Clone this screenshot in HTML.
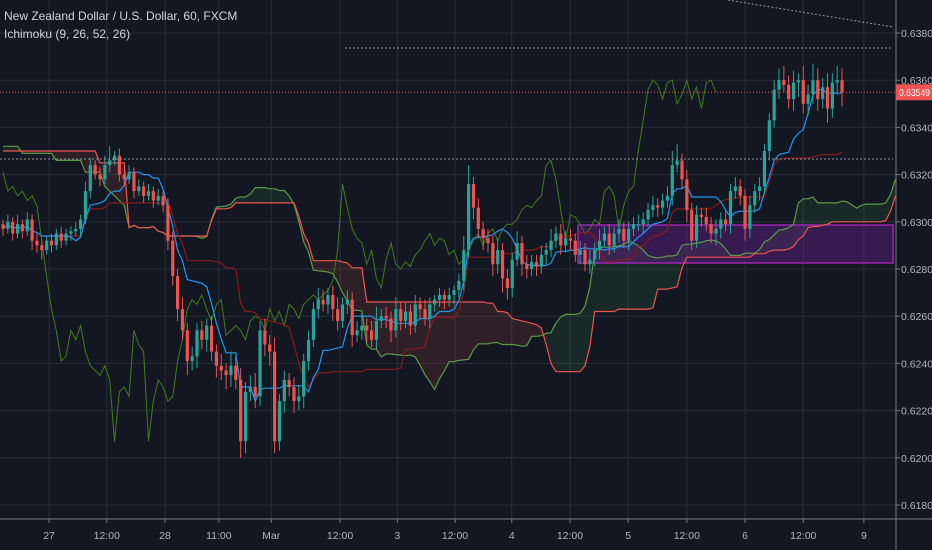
<!DOCTYPE html>
<html><head><meta charset="utf-8"><style>
html,body{margin:0;padding:0;background:#131722;width:932px;height:550px;overflow:hidden}
svg{display:block;font-family:"Liberation Sans",sans-serif}
</style></head><body>
<svg id="chart" width="932" height="550" xmlns="http://www.w3.org/2000/svg">
<rect x="0" y="0" width="932" height="550" fill="#131722"/>
<g id="grid"></g>
<g id="cloud"></g>
<rect x="578" y="225" width="315" height="38" fill="rgba(123,31,162,0.35)" stroke="#9c27b0" stroke-width="1.5"/>
<g id="lines"></g>
<g id="candles"></g>
<line x1="345" y1="48" x2="893" y2="48" stroke="#9598a1" stroke-dasharray="2,2"/>
<line x1="0" y1="159" x2="893" y2="159" stroke="#9598a1" stroke-dasharray="2,2"/>
<line x1="728" y1="0" x2="893" y2="27" stroke="#9598a1" stroke-dasharray="2,2"/>
<line id="lastline" x1="0" y1="92" x2="896" y2="92" stroke="#ef5350" stroke-dasharray="1,2"/>
<line x1="896" y1="0" x2="896" y2="550" stroke="#787b86"/>
<line x1="0" y1="519" x2="932" y2="519" stroke="#787b86"/>
<g id="yaxis"></g>
<g id="xaxis"></g>
<rect id="lastbox" x="896" y="84" width="36" height="16" fill="#ef5350"/>
<text id="lasttext" x="899" y="96" font-size="9.8" fill="#fff" textLength="31" lengthAdjust="spacingAndGlyphs">0.63549</text>
<text x="4" y="20" font-size="12" fill="#d1d4dc">New Zealand Dollar / U.S. Dollar, 60, FXCM</text>
<text x="4" y="38" font-size="12" fill="#d1d4dc">Ichimoku (9, 26, 52, 26)</text>
</svg>
<script>
const closes = [0.6297,0.6300,0.6295,0.6299,0.6296,0.6301,0.6292,0.6290,0.6288,0.6292,
0.6290,0.6295,0.6292,0.6295,0.6296,0.6297,0.6301,0.6313,0.6324,0.6320,
0.6318,0.6324,0.6326,0.6328,0.6320,0.6318,0.6321,0.6313,0.6315,0.6311,
0.6313,0.6309,0.6311,0.6307,0.6292,0.6277,0.6263,0.6254,0.6241,0.6243,
0.6254,0.6250,0.6256,0.6245,0.6239,0.6237,0.6235,0.6239,0.6233,0.6207,
0.6228,0.6230,0.6226,0.6254,0.6248,0.6245,0.6207,0.6224,0.6233,0.6230,
0.6224,0.6226,0.6241,0.6250,0.6263,0.6267,0.6265,0.6269,0.6263,0.6258,
0.6265,0.6267,0.6252,0.6254,0.6256,0.6254,0.6250,0.6258,0.6260,0.6259,
0.6254,0.6263,0.6258,0.6262,0.6256,0.6265,0.6263,0.6259,0.6265,0.6267,
0.6269,0.6267,0.6269,0.6271,0.6275,0.6288,0.6316,0.6306,0.6297,0.6293,
0.6291,0.6282,0.6288,0.6276,0.6272,0.6284,0.6291,0.6282,0.6280,0.6283,
0.6281,0.6286,0.6288,0.6292,0.6295,0.6290,0.6293,0.6292,0.6286,0.6288,
0.6282,0.6284,0.6288,0.6292,0.6295,0.6290,0.6295,0.6297,0.6292,0.6297,
0.6299,0.6299,0.6301,0.6305,0.6307,0.6306,0.6309,0.6311,0.6324,0.6326,
0.6318,0.6305,0.6292,0.6303,0.6302,0.6299,0.6295,0.6297,0.6301,0.6299,
0.6313,0.6315,0.6311,0.6297,0.6307,0.6313,0.6315,0.6330,0.6343,0.6356,
0.6360,0.6358,0.6352,0.6359,0.6360,0.6350,0.6354,0.6360,0.6352,0.6357,
0.6348,0.6359,0.6360,0.63549];
const upWick = [2,3,2,4,2,3,2,3,2,2, 3,2,3,2,2,3,2,4,3,2, 3,4,6,2,3,2,3,2,3,2,
3,2,3,2,3,4,3,5,3,4, 3,4,3,4,3,5,3,6,4,5, 4,5,6,4,5,4,6,3,4,3,
4,5,3,4,3,5,4,3,4,5, 3,4,3,4,5,3,4,6,3,4, 3,5,3,4,3,4,3,4,3,2,
3,2,3,2,3,6,8,3,4,3, 4,3,5,3,4,3,5,3,4,3, 3,4,3,5,3,4,3,4,3,4,
3,4,3,5,3,4,3,4,3,3, 3,4,3,3,4,3,3,4,6,7, 3,4,3,4,3,4,3,4,3,4,
3,4,3,3,4,3,4,3,3,4, 5,6,4,5,3,6,4,7,5,4, 6,4,6,5];
const downWick = [3,2,3,2,3,2,4,3,4,2, 3,2,3,2,3,2,3,2,3,2, 3,2,3,2,3,3,2,3,2,3,
2,3,2,3,4,4,5,4,6,4, 5,4,5,4,5,4,6,5,4,7, 5,4,5,4,5,6,5,4,5,4,
5,4,5,4,3,4,3,4,5,4, 3,4,5,3,4,5,3,4,3,4, 5,3,4,3,4,3,4,3,4,3,
3,4,3,4,3,4,3,5,4,5, 4,5,4,6,5,4,3,5,4,3, 4,3,4,3,3,4,3,4,3,4,
3,4,3,4,3,4,3,4,3,4, 3,3,4,3,3,4,3,3,4,3, 4,5,4,3,4,3,4,5,4,3,
4,3,4,5,4,3,4,3,4,3, 4,3,4,5,6,4,5,4,5,4, 6,4,5,6];
const spanAPrior = [0.6332,0.6332,0.6332,0.6332,0.6329,0.6329,0.6329,0.6329,0.6329,0.6329,0.6329,
0.6326,0.6326,0.6326,0.6326,0.6326,0.6326,0.6321,0.6321,0.6321,0.6321,0.6315,0.6313,0.6311,0.6309,0.6307];
const spanBPrior = [0.6330,0.6330,0.6330,0.6330,0.6330,0.6330,0.6330,0.6330,0.6330,0.6330,
0.6330,0.6330,0.6330,0.6330,0.6330,0.6330,0.6330,0.6330,0.6330,0.6330,0.6325,0.6325,0.6325,0.6325,0.6325,0.6325];
const priceTicks = [0.638,0.636,0.634,0.632,0.630,0.628,0.626,0.624,0.622,0.620,0.618];
const timeTickLabels = ["27","12:00","28","11:00","Mar","12:00","3","12:00","4","12:00","5","12:00","6","12:00","9"];
const timeTickIndex = [9.5,21.4,33.4,44.5,55.3,69.5,81.3,93.2,104.9,116.9,128.9,141,153,165,177.5];

const NS="http://www.w3.org/2000/svg";
const yOf = p => 33 + (0.638 - p) * 23600;
const xOf = i => 3 + i * 4.85;
function mk(tag, attrs, parent){const e=document.createElementNS(NS,tag);for(const k in attrs)e.setAttribute(k,attrs[k]);parent.appendChild(e);return e;}
const n = closes.length;
const opens = closes.map((c,i)=> i===0 ? 0.6299 : closes[i-1]);
const highs = closes.map((c,i)=> Math.max(c,opens[i]) + (upWick[i]||2)*0.0001);
const lows = closes.map((c,i)=> Math.min(c,opens[i]) - (downWick[i]||2)*0.0001);

const grid=document.getElementById('grid'), yax=document.getElementById('yaxis'), xax=document.getElementById('xaxis');
priceTicks.forEach(p=>{
  const y=yOf(p);
  const gl=mk('line',{x1:0,y1:y,x2:896,y2:y,stroke:'#2a2e39','stroke-width':1},grid);
  
  
  const tk=mk('line',{x1:896,y1:y,x2:900,y2:y,stroke:'#787b86'},yax);
  
  
  const t=mk('text',{x:901,y:y+4,'font-size':10.5,fill:'#b2b5be'},yax);
  t.textContent=p.toFixed(5);
  
  
});
timeTickIndex.forEach((ix,k)=>{
  const x=xOf(ix);
  const gl=mk('line',{x1:x,y1:0,x2:x,y2:519,stroke:'#2a2e39','stroke-width':1},grid);
  
  
  const tk=mk('line',{x1:x,y1:519,x2:x,y2:523,stroke:'#787b86'},xax);
  
  
  const t=mk('text',{x:x,y:539,'font-size':10.5,fill:'#b2b5be','text-anchor':'middle'},xax);
  t.textContent=timeTickLabels[k];
  
  
});

function hh(i,p){let m=-1;for(let j=Math.max(0,i-p+1);j<=i;j++)m=Math.max(m,highs[j]);return m;}
function ll(i,p){let m=9;for(let j=Math.max(0,i-p+1);j<=i;j++)m=Math.min(m,lows[j]);return m;}
const tenkan=[],kijun=[],spanA=[],spanB=[];
for(let i=0;i<n;i++){tenkan.push((hh(i,9)+ll(i,9))/2);kijun.push((hh(i,26)+ll(i,26))/2);}
for(let j=0;j<n+26;j++){
  if(j<26){spanA.push(spanAPrior[j]);spanB.push(spanBPrior[j]);}
  else{const i=j-26;spanA.push((tenkan[i]+kijun[i])/2);spanB.push((hh(i,52)+ll(i,52))/2);}
}
const cloud=document.getElementById('cloud');
for(let j=0;j<spanA.length-1;j++){
  if(xOf(j)>896)break;
  const x1=xOf(j),x2=Math.min(xOf(j+1),896);
  const up=spanA[j]>=spanB[j];
  const q=mk('polygon',{points:`${x1},${yOf(spanA[j])} ${x2},${yOf(spanA[j+1])} ${x2},${yOf(spanB[j+1])} ${x1},${yOf(spanB[j])}`,fill:up?'rgba(76,175,80,0.12)':'rgba(239,83,80,0.13)'},cloud);
  
  
}
const lines=document.getElementById('lines');
function poly(arr,off,color,name,w){
  const pts=[];arr.forEach((v,i)=>{const x=xOf(i+off);if(x>=0&&x<=896)pts.push(x.toFixed(1)+','+yOf(v).toFixed(1));});
  const pl=mk('polyline',{points:pts.join(' '),fill:'none',stroke:color,'stroke-width':w||1.2},lines);
  
  
}
poly(spanA,0,'#5b9a45','senkou-span-a',1.2);
poly(spanB,0,'#ef5350','senkou-span-b',1.2);
poly(closes,-26,'#3f7d1e','chikou-span',1);
poly(kijun,0,'#8b1a1a','kijun-sen',1.2);
poly(tenkan,0,'#2196f3','tenkan-sen',1.2);

const cg=document.getElementById('candles');
for(let i=0;i<n;i++){
  const x=xOf(i),o=opens[i],c=closes[i],col=c>=o?'#26a69a':'#ef5350';
  const w=mk('line',{x1:x,y1:yOf(highs[i]),x2:x,y2:yOf(lows[i]),stroke:col,'stroke-width':1},cg);
  
  
  const top=yOf(Math.max(o,c)),bot=yOf(Math.min(o,c));
  const b=mk('rect',{x:x-1.6,y:top,width:3.2,height:Math.max(1,bot-top),fill:col},cg);
  
  
}
const ly=yOf(closes[n-1]);
document.getElementById('lastline').setAttribute('y1',ly);
document.getElementById('lastline').setAttribute('y2',ly);
document.getElementById('lastbox').setAttribute('y',ly-8);
document.getElementById('lasttext').setAttribute('y',ly+4);
document.getElementById('lasttext').textContent=closes[n-1].toFixed(5);
</script>
</body></html>
